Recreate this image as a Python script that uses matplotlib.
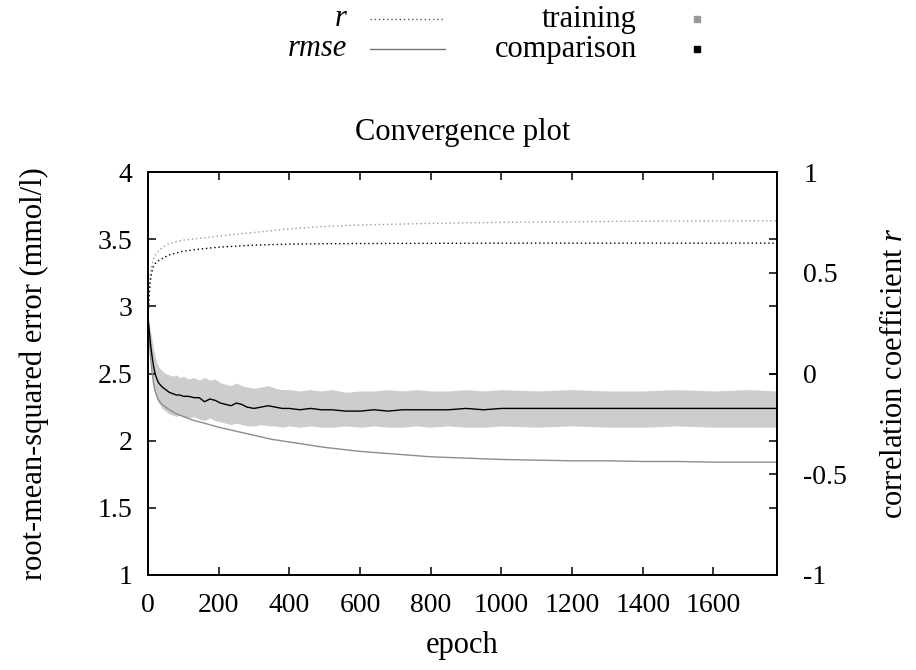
import matplotlib
matplotlib.use("Agg")
import matplotlib.pyplot as plt
from matplotlib.lines import Line2D
from matplotlib.ticker import FuncFormatter

plt.rcParams["font.family"] = ["Liberation Serif", "DejaVu Serif"]
plt.rcParams["mathtext.fontset"] = "custom"
plt.rcParams["mathtext.rm"] = "Liberation Serif"
plt.rcParams["mathtext.it"] = "Liberation Serif:italic"
plt.rcParams["axes.unicode_minus"] = False

# ---------------------------------------------------------
# data
# ---------------------------------------------------------
# comparison rmse (black) and its spread band
epoch_cmp = [0, 4, 8, 12, 16, 20, 25, 30, 40, 50, 60, 70, 80, 90, 100,
             115, 130, 145, 160, 175, 190, 205, 220, 235, 250, 265, 280,
             300, 320, 340, 360, 380, 400, 430, 460, 490, 520, 560, 600,
             640, 680, 720, 760, 800, 850, 900, 950, 1000, 1100, 1200,
             1300, 1400, 1500, 1600, 1700, 1780]
rmse_cmp = [2.92, 2.80, 2.70, 2.62, 2.55, 2.50, 2.46, 2.43, 2.40, 2.38, 2.36, 2.35, 2.34, 2.34, 2.33,
            2.33, 2.32, 2.32, 2.29, 2.31, 2.30, 2.28, 2.27, 2.26, 2.28, 2.27, 2.25,
            2.24, 2.25, 2.26, 2.25, 2.24, 2.24, 2.23, 2.24, 2.23, 2.23, 2.22, 2.22,
            2.23, 2.22, 2.23, 2.23, 2.23, 2.23, 2.24, 2.23, 2.24, 2.24, 2.24,
            2.24, 2.24, 2.24, 2.24, 2.24, 2.24]
band_hi = [2.92, 2.86, 2.80, 2.74, 2.68, 2.63, 2.58, 2.55, 2.52, 2.50, 2.49, 2.48, 2.49, 2.47, 2.48,
           2.46, 2.47, 2.45, 2.47, 2.45, 2.46, 2.43, 2.42, 2.41, 2.43, 2.41, 2.40,
           2.39, 2.40, 2.41, 2.39, 2.38, 2.38, 2.37, 2.38, 2.37, 2.38, 2.36, 2.37,
           2.37, 2.38, 2.37, 2.38, 2.37, 2.37, 2.38, 2.37, 2.38, 2.37, 2.38,
           2.37, 2.37, 2.38, 2.37, 2.38, 2.37]
band_lo = [2.92, 2.74, 2.60, 2.50, 2.42, 2.36, 2.31, 2.28, 2.24, 2.22, 2.20, 2.19, 2.18, 2.19, 2.18,
           2.17, 2.18, 2.16, 2.15, 2.17, 2.15, 2.14, 2.13, 2.12, 2.13, 2.12, 2.11,
           2.11, 2.12, 2.11, 2.11, 2.10, 2.11, 2.10, 2.11, 2.10, 2.10, 2.11, 2.10,
           2.11, 2.10, 2.10, 2.11, 2.10, 2.11, 2.10, 2.10, 2.11, 2.10, 2.11,
           2.10, 2.10, 2.11, 2.10, 2.10, 2.10]

# training rmse (gray)
epoch_trn = [0, 4, 8, 12, 16, 20, 25, 30, 40, 50, 60, 80, 100, 130, 160, 200,
             250, 300, 350, 400, 450, 500, 600, 700, 800, 900, 1000, 1100,
             1200, 1300, 1400, 1500, 1600, 1700, 1780]
rmse_trn = [2.92, 2.74, 2.60, 2.50, 2.42, 2.37, 2.33, 2.30, 2.27, 2.25, 2.23, 2.20, 2.18, 2.15, 2.13, 2.10,
            2.07, 2.04, 2.01, 1.99, 1.97, 1.95, 1.92, 1.90, 1.88, 1.87, 1.86, 1.855,
            1.85, 1.85, 1.845, 1.845, 1.84, 1.84, 1.84]

# correlation coefficient r (right axis)
epoch_r = [0, 3, 6, 10, 15, 20, 30, 45, 60, 80, 100, 150, 200, 300, 400,
           500, 600, 800, 1000, 1200, 1400, 1600, 1780]
r_trn = [0.28, 0.40, 0.48, 0.53, 0.565, 0.585, 0.61, 0.63, 0.645, 0.655, 0.662, 0.672, 0.682, 0.70, 0.718,
         0.73, 0.737, 0.745, 0.75, 0.753, 0.756, 0.757, 0.758]
r_cmp = [0.28, 0.38, 0.45, 0.50, 0.53, 0.545, 0.56, 0.575, 0.588, 0.598, 0.607, 0.618, 0.627, 0.637, 0.642,
         0.644, 0.645, 0.646, 0.647, 0.647, 0.647, 0.647, 0.647]

x_ticks = [0, 200, 400, 600, 800, 1000, 1200, 1400, 1600]
y_ticks = [1, 1.5, 2, 2.5, 3, 3.5, 4]
y2_ticks = [-1, -0.5, 0, 0.5, 1]

GRAY = "#8c8c8c"
FS = 22
TICK_FS = 20

W, H = 916, 670
fig = plt.figure(figsize=(W / 100, H / 100), dpi=100)
ax = fig.add_axes([148 / W, 1 - 575 / H, 629 / W, 403 / H])
ax2 = ax.twinx()

# band + rmse curves
ax.fill_between(epoch_cmp, band_lo, band_hi, color="#cdcdcd", linewidth=0, zorder=1)
ax.plot(epoch_trn, rmse_trn, color=GRAY, lw=1.0, zorder=3)
ax.plot(epoch_cmp, rmse_cmp, color="black", lw=1.0, zorder=4)

# r curves
ax2.plot(epoch_r, r_trn, color="#9a9a9a", lw=1.0, ls=(0, (1, 2)))
ax2.plot(epoch_r, r_cmp, color="black", lw=1.0, ls=(0, (1, 2)))

ax.set_xlim(0, 1780)
ax.set_ylim(1, 4)
ax2.set_ylim(-1, 1)
ax.set_xticks(x_ticks)
ax.set_yticks(y_ticks)
ax2.set_yticks(y2_ticks)
fmt = FuncFormatter(lambda v, p: "%g" % v)
ax.yaxis.set_major_formatter(fmt)
ax2.yaxis.set_major_formatter(fmt)

for a in (ax, ax2):
    for s in a.spines.values():
        s.set_linewidth(1.3)
ax.tick_params(axis="both", direction="in", length=6, width=1.1,
               top=True, right=True, labelsize=TICK_FS)
ax.tick_params(axis="x", pad=13)
ax.tick_params(axis="y", pad=11)
ax2.tick_params(axis="y", direction="in", length=6, width=1.1,
                right=True, left=False, labelsize=TICK_FS, pad=19)

ax.set_xlabel("epoch", fontsize=FS, va="center")
ax.xaxis.set_label_coords(0.5, -(645 - 575) / 403)
ax.set_ylabel("root-mean-squared error (mmol/l)", fontsize=FS, va="center")
ax.yaxis.set_label_coords((34 - 148) / 629, 0.5)
ax2.set_ylabel("correlation coefficient $r$", fontsize=FS, va="center", rotation=90)
ax2.yaxis.set_label_coords((895 - 148) / 629, 0.5)

fig.text(463 / W, 1 - 140 / H, "Convergence plot", fontsize=FS,
         ha="center", va="baseline")

# key, gnuplot style: text then sample
def px(x, y):
    return x / W, 1 - y / H

rows = [19, 49]
fig.text(*px(347, rows[0]), "r", fontsize=FS, style="italic", ha="right", va="center")
fig.text(*px(347, rows[1]), "rmse", fontsize=FS, style="italic", ha="right", va="center")
fig.add_artist(Line2D([370 / W, 445 / W], [px(0, rows[0])[1]] * 2,
                      color="#555555", lw=1.0, ls=(0, (1, 2))))
fig.add_artist(Line2D([370 / W, 445 / W], [px(0, rows[1])[1]] * 2,
                      color="#777777", lw=1.0))
fig.text(*px(637, rows[0]), "training", fontsize=FS, ha="right", va="center")
fig.text(*px(637, rows[1]), "comparison", fontsize=FS, ha="right", va="center")
fig.add_artist(Line2D([697 / W], [px(0, rows[0])[1]], marker="s", ms=5,
                      color="#999999", ls="none"))
fig.add_artist(Line2D([697 / W], [px(0, rows[1])[1]], marker="s", ms=5,
                      color="black", ls="none"))

fig.savefig("out.png", dpi=100)
